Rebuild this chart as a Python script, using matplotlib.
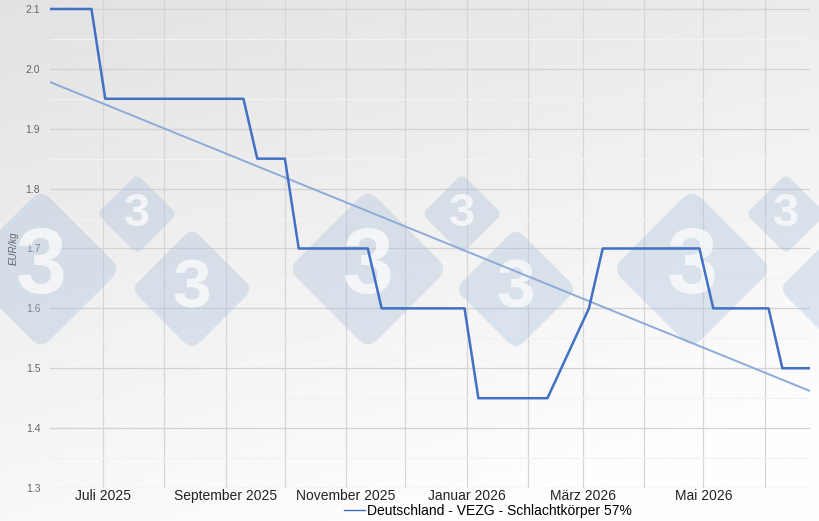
import numpy as np
import pandas as pd
import matplotlib
matplotlib.use("Agg")
import matplotlib.pyplot as plt
import matplotlib.dates as mdates
from matplotlib.patches import FancyBboxPatch
from matplotlib.lines import Line2D
from matplotlib.transforms import Affine2D

plt.rcParams['font.family'] = ['Liberation Sans', 'DejaVu Sans']

# VEZG weekly prices (EUR/kg carcass weight)
dates = ["2025-06-04", "2025-06-11", "2025-06-18", "2025-06-25",
         "2025-07-02", "2025-07-09", "2025-07-16", "2025-07-23", "2025-07-30",
         "2025-08-06", "2025-08-13", "2025-08-20", "2025-08-27",
         "2025-09-03", "2025-09-10", "2025-09-17", "2025-09-24",
         "2025-10-01", "2025-10-08", "2025-10-15", "2025-10-22", "2025-10-29",
         "2025-11-05", "2025-11-12", "2025-11-19", "2025-11-26",
         "2025-12-03", "2025-12-10", "2025-12-17", "2025-12-24", "2025-12-31",
         "2026-01-07", "2026-01-14", "2026-01-21", "2026-01-28",
         "2026-02-04", "2026-02-11", "2026-03-04", "2026-03-11", "2026-03-18",
         "2026-03-25", "2026-04-01", "2026-04-08", "2026-04-15", "2026-04-22",
         "2026-04-29", "2026-05-06", "2026-05-13", "2026-05-20", "2026-05-27",
         "2026-06-03", "2026-06-10", "2026-06-17", "2026-06-24"]
prices = [2.10, 2.10, 2.10, 2.10,
          1.95, 1.95, 1.95, 1.95, 1.95,
          1.95, 1.95, 1.95, 1.95,
          1.95, 1.95, 1.85, 1.85,
          1.85, 1.70, 1.70, 1.70, 1.70,
          1.70, 1.70, 1.60, 1.60,
          1.60, 1.60, 1.60, 1.60, 1.60,
          1.45, 1.45, 1.45, 1.45,
          1.45, 1.45, 1.60, 1.70, 1.70,
          1.70, 1.70, 1.70, 1.70, 1.70,
          1.70, 1.60, 1.60, 1.60, 1.60,
          1.60, 1.50, 1.50, 1.50]

# linear trend line (end points)
trend_dates = ["2025-06-04", "2026-06-24"]
trend_values = [1.978, 1.462]

series_label = "Deutschland - VEZG - Schlachtkörper 57%"
month_names = {1: "Januar", 3: "März", 5: "Mai", 7: "Juli", 9: "September", 11: "November"}

x = pd.to_datetime(dates)
xt = pd.to_datetime(trend_dates)

fig = plt.figure(figsize=(8.2, 5.21), dpi=100)

# background gradient
bg = fig.add_axes([0, 0, 1, 1], zorder=-10)
u, v = np.meshgrid(np.linspace(0, 1, 200), np.linspace(0, 1, 200))
grad = 0.885 + 0.11 * np.clip(0.8 * v + 0.35 * u, 0, 1)
bg.imshow(grad, cmap="gray", vmin=0, vmax=1, aspect="auto", extent=(0, 1, 0, 1))
bg.axis("off")

ax = fig.add_axes([50 / 820, 33 / 521, 760 / 820, 488 / 521])
ax.set_facecolor("none")
for s in ax.spines.values():
    s.set_visible(False)

ax.plot(x, prices, color="#4270c2", lw=1.8, zorder=3)
ax.plot(xt, trend_values, color="#8eaadb", lw=1.4, zorder=2.5)

ax.set_xlim(x[0], x[-1])
ax.set_ylim(1.3, 2.115)

ax.yaxis.set_major_locator(plt.MultipleLocator(0.1))
ax.yaxis.set_minor_locator(plt.MultipleLocator(0.05))
ax.yaxis.set_major_formatter(plt.FuncFormatter(lambda val, p: f"{val:.1f}"))
ax.xaxis.set_major_locator(mdates.MonthLocator(bymonth=[1, 3, 5, 7, 9, 11]))
ax.xaxis.set_minor_locator(mdates.MonthLocator())
ax.xaxis.set_major_formatter(plt.FuncFormatter(
    lambda val, p: f"{month_names[mdates.num2date(val).month]} {mdates.num2date(val).year}"))

ax.tick_params(axis="both", which="both", length=0)
ax.tick_params(axis="y", labelsize=7.5, labelcolor="#666666", pad=7)
ax.tick_params(axis="x", labelsize=10, labelcolor="#222222", pad=1)

ax.set_axisbelow(True)
ax.grid(axis="y", which="major", color="#d2d2d2", lw=0.9)
ax.grid(axis="y", which="minor", color="#f2f2f2", lw=0.9)
ax.grid(axis="x", which="both", color="#d6d6d6", lw=0.9)

ax.set_ylabel("EUR/kg", fontsize=7, style="italic", color="#333333")
ax.yaxis.set_label_coords(-31 / 760, 1 - 248 / 488, transform=ax.transAxes)

# 333 watermark diamonds (pixel positions, origin top-left)
wm = [(41, 269, 80, 66), (137, 214, 40, 34), (192, 289, 61, 50),
      (368, 269, 80, 66), (462, 214, 40, 34), (516, 289, 61, 50),
      (692, 269, 80, 66), (786, 214, 40, 34), (840, 289, 61, None)]
for cx, cy, half, fs in wm:
    cxi, cyi = cx / 100, (521 - cy) / 100
    side = half * np.sqrt(2) / 100
    tr = Affine2D().rotate_deg_around(cxi, cyi, 45) + fig.dpi_scale_trans
    p = FancyBboxPatch((cxi - side / 2, cyi - side / 2), side, side,
                       boxstyle=f"round,pad=0,rounding_size={side * 0.12}",
                       transform=tr, facecolor="#a9bfd8", edgecolor="none",
                       alpha=0.36, zorder=1, clip_on=False)
    ax.add_patch(p)
    if fs:
        ax.text(cxi, cyi, "3", transform=fig.dpi_scale_trans, ha="center", va="center",
                fontsize=fs, fontweight="bold", color="white", alpha=0.7,
                zorder=1.1, clip_on=False)

handle = Line2D([], [], color="#4270c2", lw=1.0)
fig.legend([handle], [series_label], loc="center", bbox_to_anchor=(488 / 820, 1 - 511 / 521),
           frameon=False, fontsize=10, handlelength=1.5, handletextpad=0.1)

fig.savefig("out.png", dpi=100)
